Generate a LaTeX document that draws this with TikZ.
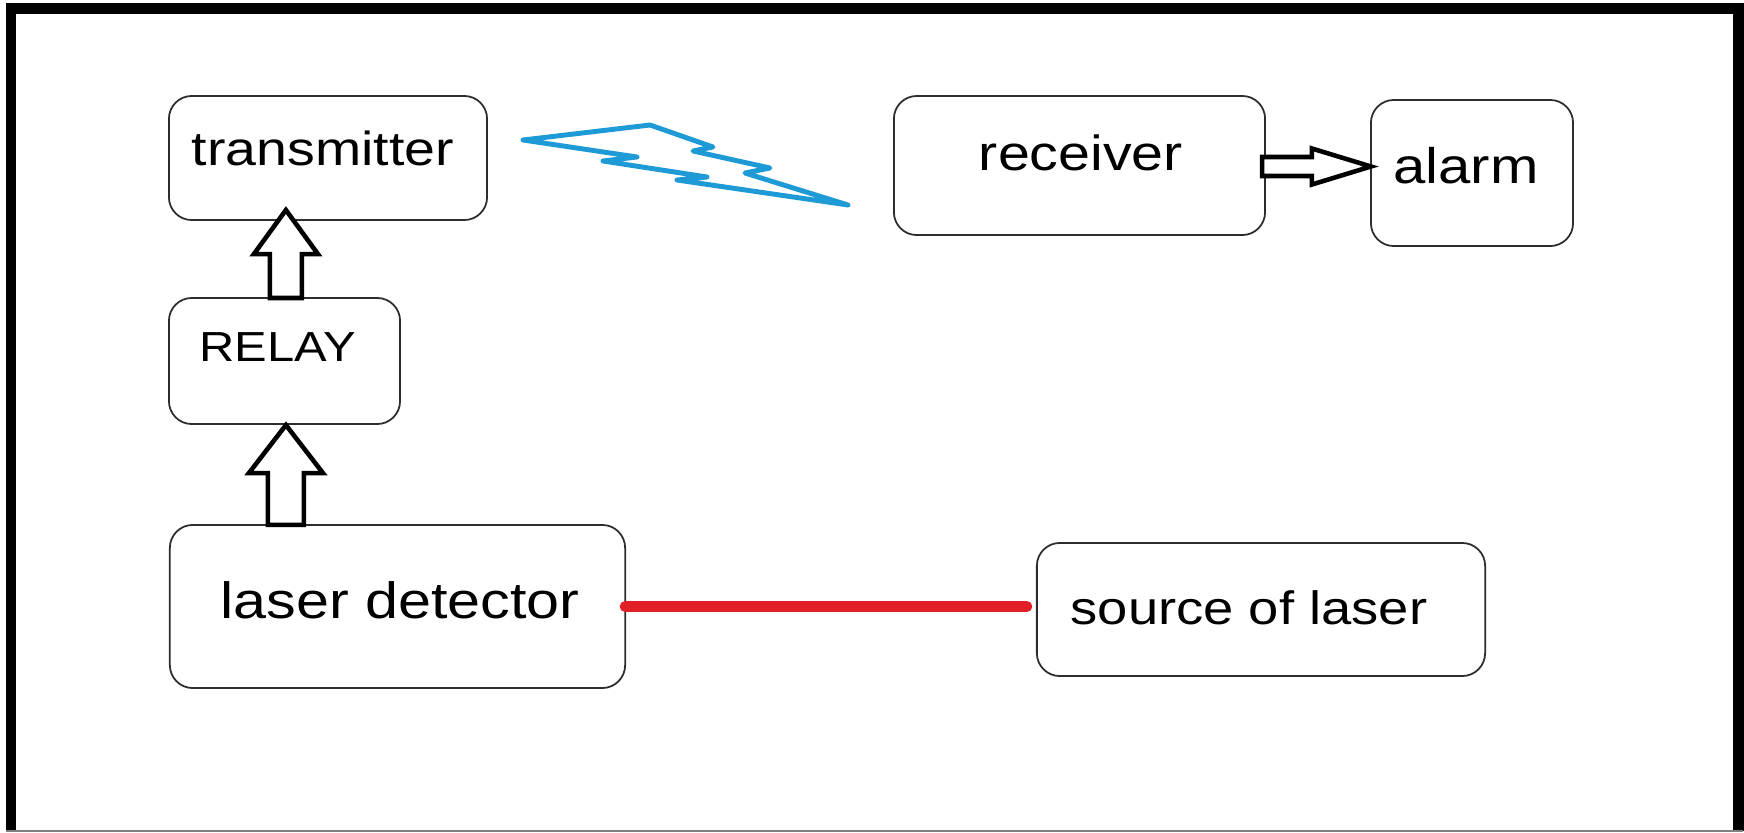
\documentclass[tikz,border=0pt]{standalone}
\usepackage{fontspec}
\usepackage{graphicx}
\setmainfont{Liberation Sans}
\usetikzlibrary{calc}
\definecolor{boltblue}{RGB}{30,154,214}
\definecolor{laserred}{RGB}{226,30,38}
\definecolor{boxline}{RGB}{45,45,45}
\newcommand{\lbltext}[2]{{\fontsize{#1}{#1}\selectfont\scalebox{1.163}[1]{#2}}}
\tikzset{
  box/.style={draw=boxline, line width=0.5pt, rounded corners=6.5pt, inner sep=0pt, outer sep=0pt, fill=white},
  lbl/.style={anchor=base, inner sep=0pt, text=black},
  barrow/.style={draw=black, line width=1.3pt, fill=white, line join=miter},
  bolt/.style={draw=boltblue, line width=1.4pt, line join=round},
  laser/.style={draw=laserred, line width=3.1pt, line cap=round},
}
\begin{document}
\begin{tikzpicture}[x=0.01cm, y=-0.01cm]
\useasboundingbox (0,0) rectangle (1744,833);
\fill[white] (0,0) rectangle (1744,833);
% frame
\draw[line width=3.1pt] (6,8.5) -- (1743,8.5);
\draw[line width=2.85pt] (11,3) -- (11,831);
\draw[line width=2.85pt] (1738.5,3) -- (1738.5,831);
\draw[line width=0.5pt, gray] (6,831) -- (1743,831);
% boxes
\node[box, minimum width=3.18cm, minimum height=1.24cm] (tx) at (328,158) {};
\node[box, minimum width=2.31cm, minimum height=1.26cm] (relay) at (284.5,361) {};
\node[box, minimum width=4.55cm, minimum height=1.63cm] (ld) at (397.5,606.5) {};
\node[box, minimum width=4.48cm, minimum height=1.33cm] (src) at (1261,609.5) {};
\node[box, minimum width=3.71cm, minimum height=1.39cm] (rx) at (1079.5,165.5) {};
\node[box, minimum width=2.02cm, minimum height=1.46cm] (alarm) at (1472,173) {};
% labels
\node[lbl] (txt) at (323,165) {\lbltext{13.57pt}{transmitter}};
\node[lbl] (relayt) at (278,361) {\lbltext{11.95pt}{RELAY}};
\node[lbl] (ldt) at (400,618) {\lbltext{14.5pt}{laser detector}};
\node[lbl] (srct) at (1249,624) {\lbltext{13.3pt}{source of laser}};
\node[lbl] (rxt) at (1081,170) {\lbltext{14.03pt}{receiver}};
\node[lbl] (alarmt) at (1466,183) {\lbltext{14.2pt}{alarm}};
% block arrow: laser detector -> relay
\coordinate (a2) at ($(ld.north west)+(116,0)$);
\coordinate (b2) at ($(relay.south west)+(117,1)$);
\draw[barrow] ($(a2)+(-18,0)$) -- ($(b2)+(-18,48)$) -- ($(b2)+(-37,48)$) -- (b2)
  -- ($(b2)+(37,48)$) -- ($(b2)+(18,48)$) -- ($(a2)+(18,0)$) -- cycle;
% block arrow: relay -> transmitter
\coordinate (a1) at ($(relay.north west)+(117,0)$);
\coordinate (b1) at ($(tx.south west)+(117,-10)$);
\draw[barrow] ($(a1)+(-16,0)$) -- ($(b1)+(-16,44)$) -- ($(b1)+(-32,44)$) -- (b1)
  -- ($(b1)+(32,44)$) -- ($(b1)+(16,44)$) -- ($(a1)+(16,0)$) -- cycle;
% block arrow: receiver -> alarm
\coordinate (a3) at ($(rx.east)+(-3,1)$);
\coordinate (b3) at (a3 -| alarm.west);
\draw[barrow] ($(a3)+(0,-9.5)$) -- ($(b3)+(-59,-9.5)$) -- ($(b3)+(-59,-18)$) -- (b3)
  -- ($(b3)+(-59,18)$) -- ($(b3)+(-59,9.5)$) -- ($(a3)+(0,9.5)$) -- cycle;
% laser beam
\draw[laser] (ld.east) -- ($(ld.east -| src.west)+(-10,0)$);
% lightning (wireless link)
\draw[bolt] (523,140) -- (650,125) -- (713,147) -- (693,151) -- (770,168) -- (745,173)
  -- (848,205) -- (677,180) -- (707,177) -- (603,161) -- (637,157) -- cycle;
\end{tikzpicture}
\end{document}
